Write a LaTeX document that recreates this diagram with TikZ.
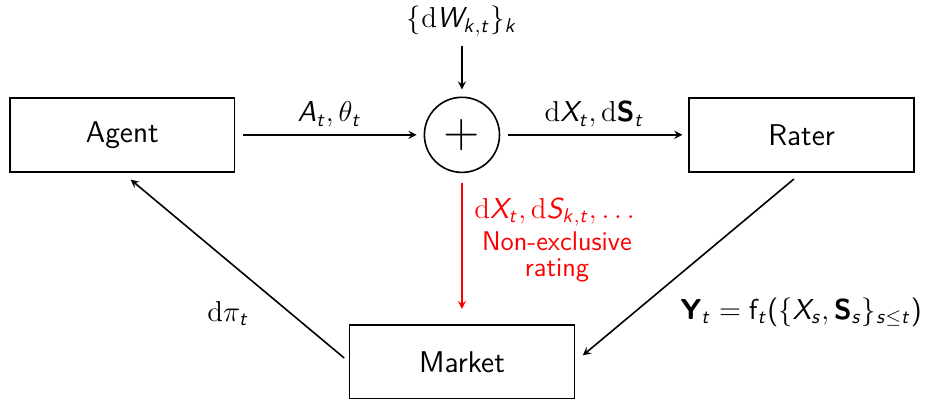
\documentclass[tikz,border=0pt]{standalone}
\usepackage{amsmath}
\renewcommand{\familydefault}{\sfdefault}
\usetikzlibrary{arrows}
% sans math letters, serif differential
\makeatletter
\DeclareSymbolFont{operators}{OT1}{cmss}{m}{n}
\DeclareSymbolFont{sfletters}{OT1}{cmss}{m}{sl}
\DeclareMathAlphabet{\mathbf}{OT1}{cmss}{bx}{n}
\@for\@tempa:=A,B,C,D,E,F,G,H,I,J,K,L,M,N,O,P,Q,R,S,T,U,V,W,X,Y,Z,a,b,c,d,e,f,g,h,i,j,k,l,m,n,o,p,q,r,s,t,u,v,w,x,y,z\do{%
	\edef\@tempb{\noexpand\DeclareMathSymbol{\@tempa}{\noexpand\mathalpha}{sfletters}{`\@tempa}}\@tempb}
\makeatother
\newcommand{\diff}{\textrm{d}}

\begin{document}
\begin{tikzpicture}[
	box/.style={draw, thick, minimum width=3.95cm, minimum height=1.3cm, font=\fontsize{15}{18}\selectfont},
	sumnode/.style={draw, thick, circle, minimum size=1.32cm, inner sep=0pt},
	flow/.style={-stealth, thick, shorten <=4pt, shorten >=3.5pt},
	lbl/.style={font=\Large}]
		\useasboundingbox (-8.12,-4.63) rectangle (8.28,2.37);
		\node[sumnode] (sum) at (0,0) {\Huge $+$};
		\node[box] (agent) at (-5.97,0) {Agent};
		\node[box] (rater) at (5.97,0) {Rater};
		\node[box] (market) at (0,-3.99) {Market};
		\node[lbl] (noise) at (0,2.0) {$\{\diff W_{k,t}\}_k$};
		\draw[flow, shorten <=1.5pt] (noise) -- (sum);
		\draw[flow] (agent) -- node[above, lbl] (act) {$A_t,\theta_t$} (sum);
		\draw[flow, shorten >=3pt] (sum) -- node[above, lbl] (obs) {$\diff X_t,\diff\mathbf{S}_t$} (rater);
		%\draw (sum.south) -- (market.north);
		\draw[flow, red, shorten <=4.7pt, shorten >=7.5pt] (sum.south) -- (market.north);
		\node[red, font=\fontsize{13.5}{14}\selectfont, align=center] (share) at (1.67,-1.85) {{\Large$\diff X_t,\diff S_{k,t},\dots$}\\[2pt]Non-exclusive\\[-1pt]rating};
		\draw[flow, shorten <=3pt, shorten >=5.5pt] (market.west) -- (agent.south);
		\node[lbl] (pay) at (-4.11,-3.14) {$\diff\pi_t$};
		\draw[flow, shorten <=5pt, shorten >=5pt] (rater.south) -- (market.east);
		\node[lbl] (score) at (5.96,-3.12) {$\mathbf{Y}_t=\mathsf{f}_t(\{X_s,\mathbf{S}_s\}_{s\leq t})$};
	\end{tikzpicture}
\end{document}
